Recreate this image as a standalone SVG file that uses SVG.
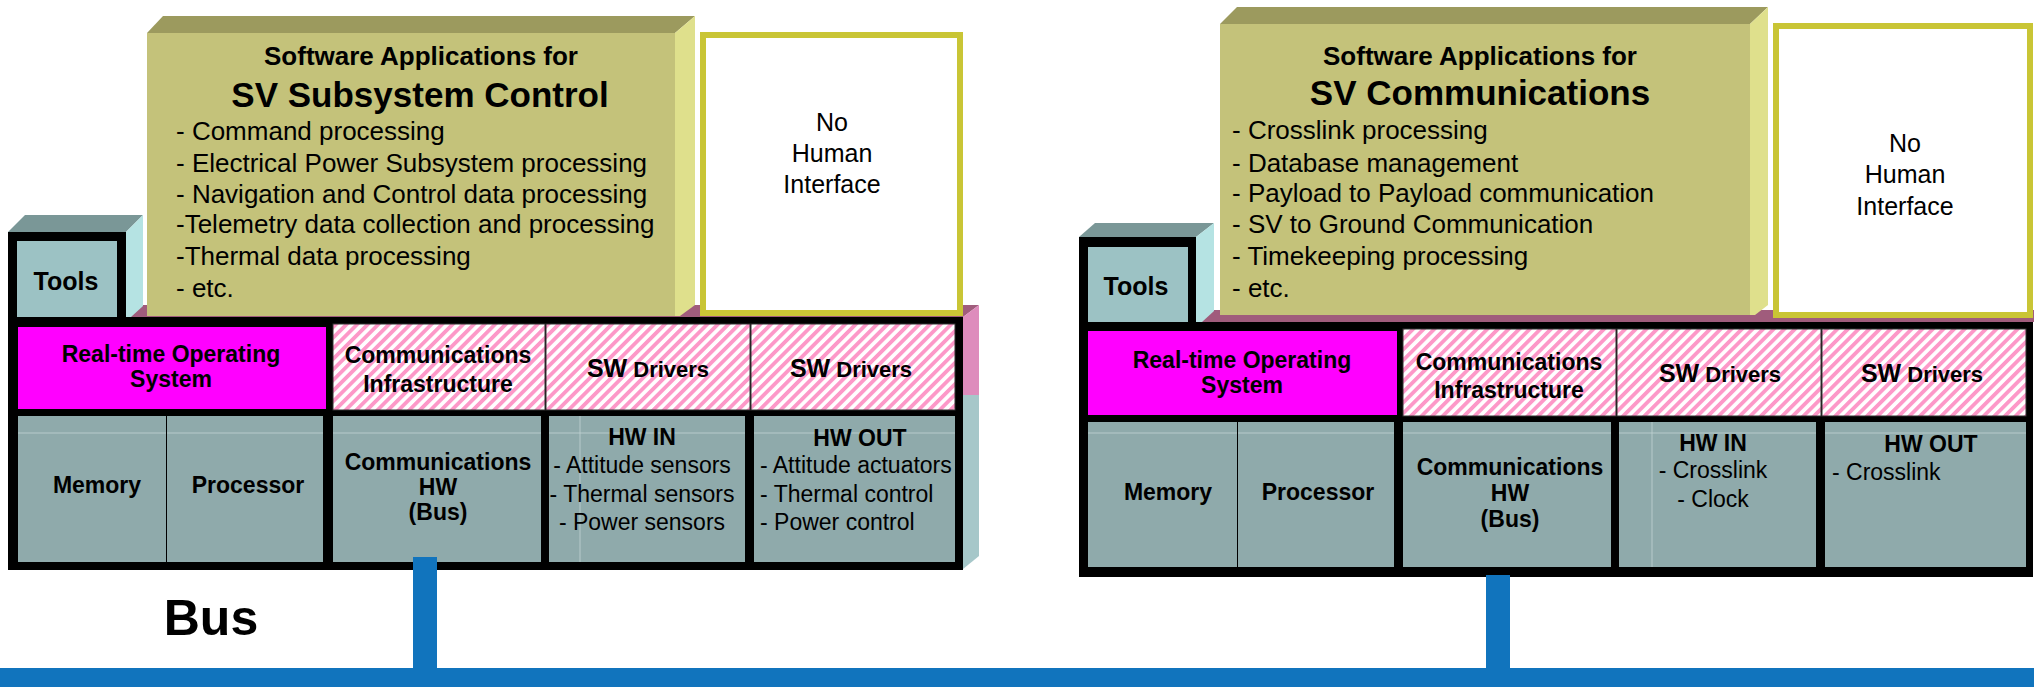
<svg xmlns="http://www.w3.org/2000/svg" width="2034" height="687" viewBox="0 0 2034 687">
<defs>
<pattern id="hatch" width="7.5" height="7.5" patternUnits="userSpaceOnUse" patternTransform="rotate(45)">
<rect width="7.5" height="7.5" fill="#ffffff"/>
<rect width="3.8" height="7.5" fill="#fd98c8"/>
</pattern>
<style>
text{font-family:"Liberation Sans",Arial,Helvetica,sans-serif;fill:#000}
.c{text-anchor:middle}
.b{font-weight:bold}
.f26{font-size:26px}
.f25{font-size:25px}
.f23{font-size:23px}
.f35{font-size:35px}
.frame{fill:#000}
.mauve{fill:#a05c7c}
.pinkside{fill:#de8cbc}
.tealside{fill:#a6c7c9}
.apptop{fill:#9c9a5e}
.appside{fill:#dfe08c}
.appfront{fill:#c4c27a}
.tooltop{fill:#7a9797}
.toolside{fill:#b5e3e3}
.toolblk{fill:#000}
.toolin{fill:#9cc2c4}
.nohuman{fill:#fff;stroke:#c9c535;stroke-width:6}
.rtos{fill:#ff00ff}
.sw{fill:url(#hatch);stroke:#333;stroke-width:1}
.hw{fill:#8faaab}
.hl{stroke:#c2d4d4;stroke-width:1;opacity:.8}
.bus{fill:#1174bd}
</style>
</defs>

<!-- ===== LEFT SYSTEM ===== -->
<g id="left-base">
<polygon class="mauve" points="126,317 143,305 979,305 963,317"/>
<polygon class="pinkside" points="963,317 979,305 979,395 963,395"/>
<polygon class="tealside" points="963,395 979,395 979,556 963,569"/>
<rect class="frame" x="8" y="317" width="955" height="253"/>
</g>
<g id="left-tools">
<polygon class="tooltop" points="8,232 25,215 143,215 126,232"/>
<polygon class="toolside" points="126,232 143,215 143,306 131,317 126,317"/>
<rect class="toolblk" x="8" y="232" width="118" height="88"/>
<rect class="toolin" x="17" y="241" width="100" height="76"/>
<text class="c b f25" x="66" y="290">Tools</text>
</g>
<g id="left-apps">
<polygon class="apptop" points="147,33 163,16 695,16 675,33"/>
<polygon class="appside" points="675,33 695,16 695,305 680,316 675,316"/>
<rect class="appfront" x="147" y="33" width="528" height="283"/>
<text class="c b f26" x="421" y="65">Software Applications for</text>
<text class="c b f35" x="420" y="107">SV Subsystem Control</text>
<text class="f26" x="176" y="140">- Command processing</text>
<text class="f26" x="176" y="172">- Electrical Power Subsystem processing</text>
<text class="f26" x="176" y="203">- Navigation and Control data processing</text>
<text class="f26" x="176" y="233">-Telemetry data collection and processing</text>
<text class="f26" x="176" y="265">-Thermal data processing</text>
<text class="f26" x="176" y="297">- etc.</text>
</g>
<g id="left-nohuman">
<rect class="nohuman" x="703" y="35" width="257" height="278"/>
<text class="c f25" x="832" y="131">No</text>
<text class="c f25" x="832" y="162">Human</text>
<text class="c f25" x="832" y="193">Interface</text>
</g>
<g id="left-rtos">
<rect class="rtos" x="18" y="327" width="308" height="82"/>
<text class="c b f23" x="171" y="362">Real-time Operating</text>
<text class="c b f23" x="171" y="387">System</text>
</g>
<g id="left-comm-infra">
<rect class="sw" x="333" y="324" width="212" height="86"/>
<text class="c b f23" x="438" y="363">Communications</text>
<text class="c b f23" x="438" y="392">Infrastructure</text>
</g>
<g id="left-sw-drivers-in">
<rect class="sw" x="546" y="324" width="204" height="86"/>
<text class="c b" x="648" y="377"><tspan font-size="25">SW</tspan><tspan font-size="22"> Drivers</tspan></text>
</g>
<g id="left-sw-drivers-out">
<rect class="sw" x="751" y="324" width="204" height="86"/>
<text class="c b" x="851" y="377"><tspan font-size="25">SW</tspan><tspan font-size="22"> Drivers</tspan></text>
</g>
<g id="left-memory">
<rect class="hw" x="18" y="416" width="148" height="146"/>
<line class="hl" x1="18" y1="433" x2="166" y2="433"/>
<text class="c b f23" x="97" y="493">Memory</text>
</g>
<g id="left-processor">
<rect class="hw" x="167" y="416" width="156" height="146"/>
<line class="hl" x1="167" y1="433" x2="323" y2="433"/>
<text class="c b f23" x="248" y="493">Processor</text>
</g>
<g id="left-comm-hw">
<rect class="hw" x="333" y="416" width="208" height="146"/>
<line class="hl" x1="333" y1="433" x2="541" y2="433"/>
<text class="c b f23" x="438" y="470">Communications</text>
<text class="c b f23" x="438" y="495">HW</text>
<text class="c b f23" x="438" y="520">(Bus)</text>
</g>
<g id="left-hw-in">
<rect class="hw" x="549" y="416" width="196" height="146"/>
<line class="hl" x1="549" y1="433" x2="745" y2="433"/>
<line class="hl" x1="580" y1="416" x2="580" y2="562"/>
<text class="c b f23" x="642" y="445">HW IN</text>
<text class="c f23" x="642" y="473">- Attitude sensors</text>
<text class="c f23" x="642" y="502">- Thermal sensors</text>
<text class="c f23" x="642" y="530">- Power sensors</text>
</g>
<g id="left-hw-out">
<rect class="hw" x="754" y="416" width="201" height="146"/>
<line class="hl" x1="754" y1="433" x2="955" y2="433"/>
<text class="c b f23" x="860" y="446">HW OUT</text>
<text class="f23" x="760" y="473">- Attitude actuators</text>
<text class="f23" x="760" y="502">- Thermal control</text>
<text class="f23" x="760" y="530">- Power control</text>
</g>

<!-- ===== RIGHT SYSTEM ===== -->
<g id="right-base">
<polygon class="mauve" points="1196,322 1213,310 2034,310 2034,322"/>
<rect class="frame" x="1079" y="322" width="954" height="255"/>
</g>
<g id="right-tools">
<polygon class="tooltop" points="1079,237 1095,223 1214,223 1196,237"/>
<polygon class="toolside" points="1196,237 1214,223 1214,311 1202,322 1196,322"/>
<rect class="toolblk" x="1079" y="237" width="117" height="88"/>
<rect class="toolin" x="1088" y="247" width="100" height="75"/>
<text class="c b f25" x="1136" y="295">Tools</text>
</g>
<g id="right-apps">
<polygon class="apptop" points="1220,24 1237,7 1768,7 1750,24"/>
<polygon class="appside" points="1750,24 1768,7 1768,305 1755,315 1750,315"/>
<rect class="appfront" x="1220" y="24" width="530" height="291"/>
<text class="c b f26" x="1480" y="65">Software Applications for</text>
<text class="c b f35" x="1480" y="105">SV Communications</text>
<text class="f26" x="1232" y="139">- Crosslink processing</text>
<text class="f26" x="1232" y="172">- Database management</text>
<text class="f26" x="1232" y="202">- Payload to Payload communication</text>
<text class="f26" x="1232" y="233">- SV to Ground Communication</text>
<text class="f26" x="1232" y="265">- Timekeeping processing</text>
<text class="f26" x="1232" y="297">- etc.</text>
</g>
<g id="right-nohuman">
<rect class="nohuman" x="1776" y="26" width="254" height="289"/>
<text class="c f25" x="1905" y="152">No</text>
<text class="c f25" x="1905" y="183">Human</text>
<text class="c f25" x="1905" y="215">Interface</text>
</g>
<g id="right-rtos">
<rect class="rtos" x="1088" y="331" width="309" height="84"/>
<text class="c b f23" x="1242" y="368">Real-time Operating</text>
<text class="c b f23" x="1242" y="393">System</text>
</g>
<g id="right-comm-infra">
<rect class="sw" x="1403" y="329" width="213" height="87"/>
<text class="c b f23" x="1509" y="370">Communications</text>
<text class="c b f23" x="1509" y="398">Infrastructure</text>
</g>
<g id="right-sw-drivers-in">
<rect class="sw" x="1617" y="329" width="204" height="87"/>
<text class="c b" x="1720" y="382"><tspan font-size="25">SW</tspan><tspan font-size="22"> Drivers</tspan></text>
</g>
<g id="right-sw-drivers-out">
<rect class="sw" x="1822" y="329" width="204" height="87"/>
<text class="c b" x="1922" y="382"><tspan font-size="25">SW</tspan><tspan font-size="22"> Drivers</tspan></text>
</g>
<g id="right-memory">
<rect class="hw" x="1088" y="422" width="149" height="145"/>
<line class="hl" x1="1088" y1="433" x2="1237" y2="433"/>
<text class="c b f23" x="1168" y="500">Memory</text>
</g>
<g id="right-processor">
<rect class="hw" x="1238" y="422" width="156" height="145"/>
<line class="hl" x1="1238" y1="433" x2="1394" y2="433"/>
<text class="c b f23" x="1318" y="500">Processor</text>
</g>
<g id="right-comm-hw">
<rect class="hw" x="1403" y="422" width="208" height="145"/>
<line class="hl" x1="1403" y1="433" x2="1611" y2="433"/>
<text class="c b f23" x="1510" y="475">Communications</text>
<text class="c b f23" x="1510" y="501">HW</text>
<text class="c b f23" x="1510" y="527">(Bus)</text>
</g>
<g id="right-hw-in">
<rect class="hw" x="1619" y="422" width="197" height="145"/>
<line class="hl" x1="1619" y1="433" x2="1816" y2="433"/>
<line class="hl" x1="1652" y1="422" x2="1652" y2="567"/>
<text class="c b f23" x="1713" y="451">HW IN</text>
<text class="c f23" x="1713" y="478">- Crosslink</text>
<text class="c f23" x="1713" y="507">- Clock</text>
</g>
<g id="right-hw-out">
<rect class="hw" x="1825" y="422" width="201" height="145"/>
<line class="hl" x1="1825" y1="433" x2="2026" y2="433"/>
<text class="c b f23" x="1931" y="452">HW OUT</text>
<text class="f23" x="1832" y="480">- Crosslink</text>
</g>

<!-- ===== BUS CONNECTORS ===== -->
<g id="connectors">
<rect class="bus" x="413" y="557" width="24" height="112"/>
<rect class="bus" x="1486" y="575" width="24" height="94"/>
<rect class="bus" x="0" y="668" width="2034" height="19"/>
</g>
<g id="bus-label">
<text class="c b" font-size="50" x="211" y="635">Bus</text>
</g>
</svg>
